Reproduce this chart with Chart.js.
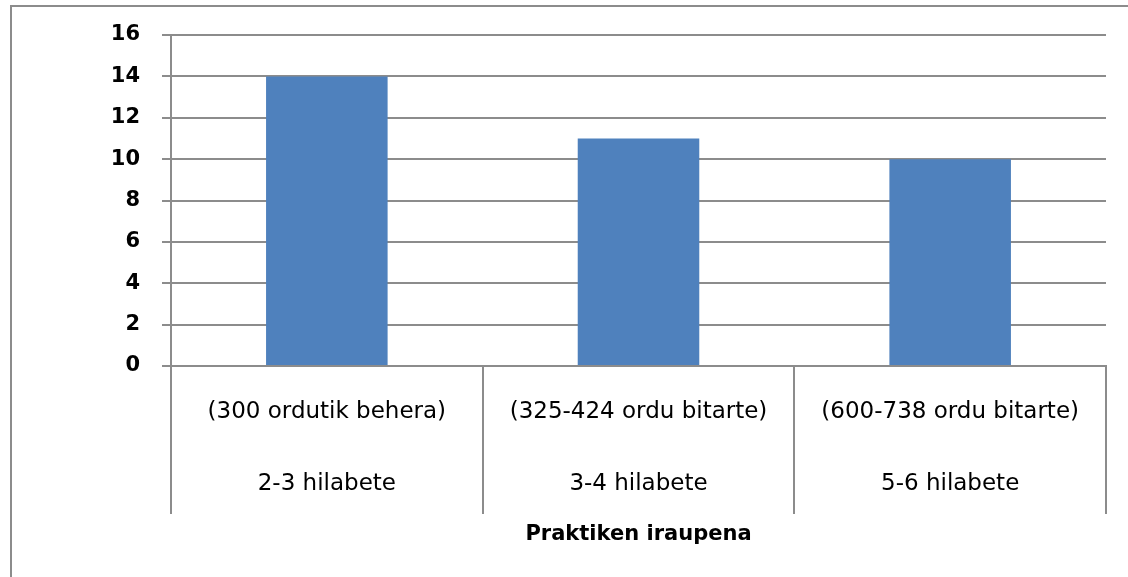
<!DOCTYPE html>
<html>
<head>
<meta charset="utf-8">
<script src="https://cdn.jsdelivr.net/npm/chart.js@4"></script>
<style>
  html, body { margin: 0; padding: 0; background: #ffffff; }
  #wrap { position: relative; width: 1128px; height: 577px; overflow: hidden; }
  #frame { position: absolute; left: 10px; top: 5px; width: 1200px; height: 700px;
           border-left: 2px solid #8c8c8c; border-top: 2px solid #8c8c8c; pointer-events: none; }
  canvas { position: absolute; left: 0; top: 0; }
</style>
</head>
<body>
<div id="wrap">
  <canvas id="c" width="1128" height="577"></canvas>
  <div id="frame"></div>
</div>
<script>
const hoursLabels = ["(300 ordutik behera)", "(325-424 ordu bitarte)", "(600-738 ordu bitarte)"];
const durationLabels = ["2-3 hilabete", "3-4 hilabete", "5-6 hilabete"];
const values = [14, 11, 10];
const axisTitle = "Praktiken iraupena";
const yMin = 0, yMax = 16, yStep = 2;

const labels = hoursLabels.map((h, i) => [h, "", durationLabels[i]]);
const gridColor = '#8c8c8c';

new Chart(document.getElementById('c'), {
  type: 'bar',
  data: {
    labels: labels,
    datasets: [{
      data: values,
      backgroundColor: '#4f81bd',
      borderWidth: 0,
      barPercentage: 0.39,
      categoryPercentage: 1.0
    }]
  },
  options: {
    responsive: false,
    devicePixelRatio: 1,
    animation: false,
    layout: { padding: { left: 0, top: 35, right: 22, bottom: 0 } },
    plugins: { legend: { display: false }, tooltip: { enabled: false } },
    scales: {
      x: {
        grid: { offset: true, drawOnChartArea: false, drawTicks: true, tickLength: 148, color: gridColor, lineWidth: 2 },
        border: { display: true, color: gridColor, width: 2 },
        ticks: {
          autoSkip: false, maxRotation: 0, minRotation: 0, padding: -120,
          color: '#000000',
          font: { family: 'DejaVu Sans', size: 23, lineHeight: 36 / 23 }
        },
        title: {
          display: true, text: axisTitle, color: '#000000',
          font: { family: 'DejaVu Sans', size: 21, weight: 'bold' },
          padding: { top: 0, bottom: 30 }
        },
        afterFit: (s) => { s.height = 211; }
      },
      y: {
        min: yMin, max: yMax,
        grid: { color: gridColor, lineWidth: 2, drawTicks: true, tickLength: 9 },
        border: { display: true, color: gridColor, width: 2 },
        ticks: {
          stepSize: yStep, padding: 22, color: '#000000',
          font: { family: 'DejaVu Sans', size: 21, weight: 'bold' }
        },
        afterFit: (s) => { s.width = 171; }
      }
    }
  }
});
</script>
</body>
</html>
